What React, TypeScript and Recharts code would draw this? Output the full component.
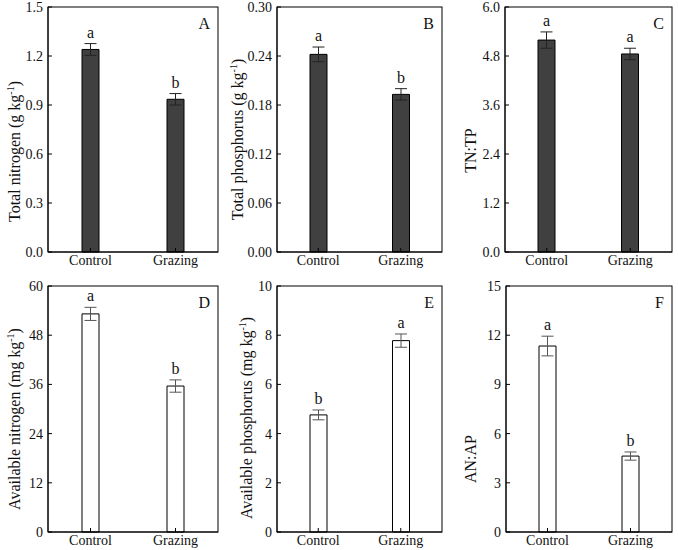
import React from 'react';
import { BarChart, Bar, XAxis, YAxis, ErrorBar, LabelList } from 'recharts';

const groups = ['Control', 'Grazing'];

const tnMean = [1.24, 0.935];
const tnErr = [0.036, 0.035];
const tnSig = ['a', 'b'];
const tnTicks = [0, 0.3, 0.6, 0.9, 1.2, 1.5];

const tpMean = [0.242, 0.193];
const tpErr = [0.009, 0.007];
const tpSig = ['a', 'b'];
const tpTicks = [0, 0.06, 0.12, 0.18, 0.24, 0.3];

const tntpMean = [5.19, 4.85];
const tntpErr = [0.2, 0.14];
const tntpSig = ['a', 'a'];
const tntpTicks = [0, 1.2, 2.4, 3.6, 4.8, 6.0];

const anMean = [53.2, 35.6];
const anErr = [1.6, 1.5];
const anSig = ['a', 'b'];
const anTicks = [0, 12, 24, 36, 48, 60];

const apMean = [4.76, 7.78];
const apErr = [0.2, 0.27];
const apSig = ['b', 'a'];
const apTicks = [0, 2, 4, 6, 8, 10];

const anapMean = [11.34, 4.63];
const anapErr = [0.6, 0.25];
const anapSig = ['a', 'b'];
const anapTicks = [0, 3, 6, 9, 12, 15];

const FONT = '"Liberation Serif", "Times New Roman", serif';

const buildRows = (mean: number[], err: number[], sig: string[]) =>
  groups.map((name, i) => ({ name, value: mean[i], err: err[i], sig: sig[i] }));

const AxisTitle = (props: any) => {
  const { viewBox, text, sup, dx, dy } = props;
  const vb = viewBox || { x: 0, y: 0, width: 0, height: 0 };
  const cx = vb.x + vb.width + dx;
  const cy = vb.y + vb.height / 2 + dy;
  return (
    <text
      x={cx}
      y={cy}
      transform={`rotate(-90 ${cx} ${cy})`}
      textAnchor="middle"
      fontFamily={FONT}
      fontSize={16}
      fill="#111"
    >
      {text}
      {sup ? (
        <>
          <tspan dy={-6} fontSize={10}>-1</tspan>
          <tspan dy={6}>)</tspan>
        </>
      ) : null}
    </text>
  );
};

type PanelProps = {
  frame: [number, number, number, number];
  mean: number[];
  err: number[];
  sig: string[];
  ticks: number[];
  digits: number;
  title: string;
  sup: boolean;
  titleDx: number;
  titleDy: number;
  letter: string;
  filled: boolean;
};

const Panel = ({ frame, mean, err, sig, ticks, digits, title, sup, titleDx, titleDy, letter, filled }: PanelProps) => {
  const [L, T, R, B] = frame;
  const rows = buildRows(mean, err, sig);
  const left = L - 48;
  const top = T - 7;
  const width = R - L + 54;
  const height = B - T + 31;

  const renderSig = (p: any) => {
    const i = p.index;
    const errPx = (p.height * err[i]) / mean[i];
    return (
      <text
        x={p.x + p.width / 2}
        y={p.y - errPx - 6}
        textAnchor="middle"
        fontFamily={FONT}
        fontSize={16}
        fill="#111"
      >
        {p.value}
      </text>
    );
  };

  return (
    <div style={{ position: 'absolute', left, top, width, height }}>
      <BarChart width={width} height={height} data={rows} margin={{ top: 7, right: 6, left: 8, bottom: 4 }}>
        <XAxis
          dataKey="name"
          height={20}
          stroke="#000"
          tickSize={-4}
          tickMargin={7}
          tick={{ fontFamily: FONT, fontSize: 14, fill: '#111' }}
        />
        <YAxis
          width={40}
          domain={[0, ticks[ticks.length - 1]]}
          ticks={ticks}
          interval={0}
          stroke="#000"
          tickSize={-4}
          tickMargin={9}
          tickFormatter={(v: number) => v.toFixed(digits)}
          tick={{ fontFamily: FONT, fontSize: 14, fill: '#111' }}
          label={<AxisTitle text={title} sup={sup} dx={titleDx} dy={titleDy} />}
        />
        <Bar
          dataKey="value"
          barSize={17}
          fill={filled ? '#404040' : '#ffffff'}
          stroke="#000"
          strokeWidth={1}
          isAnimationActive={false}
        >
          <ErrorBar dataKey="err" width={6} stroke={filled ? '#222' : '#555'} strokeWidth={1} direction="y" />
          <LabelList dataKey="sig" content={renderSig} />
        </Bar>
      </BarChart>
      {/* top/right frame lines and panel tag */}
      <svg
        width={width}
        height={height}
        style={{ position: 'absolute', left: 0, top: 0, pointerEvents: 'none' }}
      >
        <rect x={48} y={7} width={R - L} height={B - T} fill="none" stroke="#000" strokeWidth={1} />
        <text x={48 + (R - L) - 8} y={7 + 22} textAnchor="end" fontFamily={FONT} fontSize={16} fill="#111">
          {letter}
        </text>
      </svg>
    </div>
  );
};

export default function App() {
  return (
    <div style={{ position: 'absolute', left: 0, top: 0, width: 678, height: 550, background: '#fff' }}>
      <Panel frame={[48, 7, 218, 252]} mean={tnMean} err={tnErr} sig={tnSig} ticks={tnTicks} digits={1}
        title="Total nitrogen (g kg" sup titleDx={-28} titleDy={22} letter="A" filled />
      <Panel frame={[277, 7, 442, 252]} mean={tpMean} err={tpErr} sig={tpSig} ticks={tpTicks} digits={2}
        title="Total phosphorus (g kg" sup titleDx={-34} titleDy={10} letter="B" filled />
      <Panel frame={[505, 7, 672, 252]} mean={tntpMean} err={tntpErr} sig={tntpSig} ticks={tntpTicks} digits={1}
        title="TN:TP" sup={false} titleDx={-29} titleDy={21} letter="C" filled />
      <Panel frame={[48, 286, 218, 532]} mean={anMean} err={anErr} sig={anSig} ticks={anTicks} digits={0}
        title="Available nitrogen (mg kg" sup titleDx={-28} titleDy={10} letter="D" filled={false} />
      <Panel frame={[277, 286, 442, 532]} mean={apMean} err={apErr} sig={apSig} ticks={apTicks} digits={0}
        title="Available phosphorus (mg kg" sup titleDx={-25} titleDy={9} letter="E" filled={false} />
      <Panel frame={[506, 286, 672, 532]} mean={anapMean} err={anapErr} sig={anapSig} ticks={anapTicks} digits={0}
        title="AN:AP" sup={false} titleDx={-30} titleDy={50} letter="F" filled={false} />
    </div>
  );
}
